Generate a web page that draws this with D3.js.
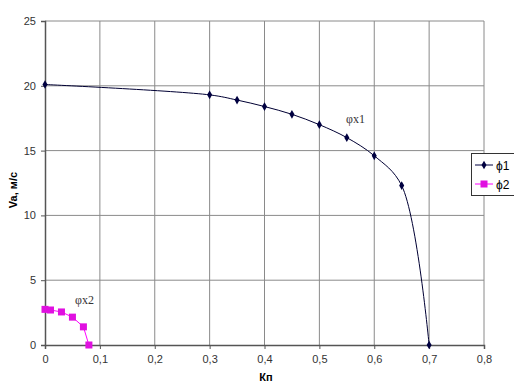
<!DOCTYPE html>
<html>
<head>
<meta charset="utf-8">
<script src="https://cdn.jsdelivr.net/npm/d3@7"></script>
<style>
  body { margin: 0; background: #fff; }
  text { font-family: "Liberation Sans", Arial, sans-serif; }
</style>
</head>
<body>
<svg width="514" height="389"></svg>
<script>
// series 1 (phi1)
var kp1 = [0, 0.3, 0.35, 0.4, 0.45, 0.5, 0.55, 0.6, 0.65, 0.7];
var va1 = [20.1, 19.3, 18.9, 18.4, 17.8, 17.0, 16.0, 14.6, 12.3, 0];
// series 2 (phi2)
var kp2 = [0, 0.01, 0.03, 0.05, 0.07, 0.08];
var va2 = [2.75, 2.7, 2.55, 2.15, 1.4, 0];
var xTicks = [0, 0.1, 0.2, 0.3, 0.4, 0.5, 0.6, 0.7, 0.8];
var yTicks = [0, 5, 10, 15, 20, 25];
var seriesNames = ["ϕ1", "ϕ2"];

var svg = d3.select("svg");
var x = d3.scaleLinear().domain([0, 0.8]).range([45, 484]);
var y = d3.scaleLinear().domain([0, 25]).range([345, 21]);
var fmt = function(d) { return String(d).replace(".", ","); };

// grid
var g = svg.append("g");
g.selectAll("line.vg").data(xTicks.slice(1)).enter().append("line")
    .attr("x1", d => x(d)).attr("x2", d => x(d))
    .attr("y1", y(25)).attr("y2", y(0))
    .attr("stroke", "#8a8a8a").attr("stroke-width", 1);
g.selectAll("line.hg").data(yTicks.slice(1)).enter().append("line")
    .attr("x1", x(0)).attr("x2", x(0.8))
    .attr("y1", d => y(d)).attr("y2", d => y(d))
    .attr("stroke", "#8a8a8a").attr("stroke-width", 1);

// axes
var xAxis = svg.append("g").attr("transform", "translate(0," + y(0) + ")")
    .call(d3.axisBottom(x).tickValues(xTicks).tickFormat(fmt).tickSize(4).tickPadding(6));
var yAxis = svg.append("g").attr("transform", "translate(" + x(0) + ",0)")
    .call(d3.axisLeft(y).tickValues(yTicks).tickSize(4).tickPadding(5));
[xAxis, yAxis].forEach(function(a) {
  a.select(".domain").attr("stroke", "#555").attr("stroke-width", 1.5);
  a.selectAll(".tick line").attr("stroke", "#555");
  a.selectAll("text").attr("font-size", 11).attr("fill", "#333");
});

// series 1 line (smoothed)
var d1 = kp1.map((k, i) => [k, va1[i]]);
var d2 = kp2.map((k, i) => [k, va2[i]]);
svg.append("path").datum(d1)
    .attr("d", d3.line().x(d => x(d[0])).y(d => y(d[1])).curve(d3.curveCatmullRom))
    .attr("fill", "none").attr("stroke", "#000033").attr("stroke-width", 1);
svg.selectAll("path.m1").data(d1).enter().append("path")
    .attr("transform", d => "translate(" + x(d[0]) + "," + y(d[1]) + ")")
    .attr("d", d3.symbol().type(d3.symbolDiamond).size(22))
    .attr("fill", "#000040");

svg.append("path").datum(d2)
    .attr("d", d3.line().x(d => x(d[0])).y(d => y(d[1])))
    .attr("fill", "none").attr("stroke", "#ff00ff").attr("stroke-width", 1);
svg.selectAll("rect.m2").data(d2).enter().append("rect")
    .attr("x", d => x(d[0]) - 3.5).attr("y", d => y(d[1]) - 3.5)
    .attr("width", 7).attr("height", 7).attr("fill", "#e010e0");

// annotations
svg.append("text").attr("x", 346).attr("y", 123).text("φx1")
    .style("font-family", "'Liberation Serif', 'Times New Roman', serif").attr("font-size", 12).attr("fill", "#333");
svg.append("text").attr("x", 75).attr("y", 304).text("φx2")
    .style("font-family", "'Liberation Serif', 'Times New Roman', serif").attr("font-size", 12).attr("fill", "#333");

// axis titles
svg.append("text").attr("x", 266).attr("y", 381).attr("text-anchor", "middle")
    .attr("font-size", 11).attr("font-weight", "bold").text("Кп");
svg.append("text").attr("transform", "translate(17,190) rotate(-90)").attr("text-anchor", "middle")
    .attr("font-size", 11).attr("font-weight", "bold").text("Va, м/с");

// legend
var lg = svg.append("g");
lg.append("rect").attr("x", 471.5).attr("y", 153.5).attr("width", 50).attr("height", 42)
    .attr("fill", "#fff").attr("stroke", "#333");
var legendColors = ["#000040", "#ff00ff"];
seriesNames.forEach(function(n, i) {
  var ly = 165 + i * 19;
  lg.append("line").attr("x1", 475).attr("x2", 493).attr("y1", ly).attr("y2", ly)
      .attr("stroke", legendColors[i]);
  if (i === 0) {
    lg.append("path").attr("transform", "translate(484," + ly + ")")
        .attr("d", d3.symbol().type(d3.symbolDiamond).size(22)).attr("fill", legendColors[i]);
  } else {
    lg.append("rect").attr("x", 480.5).attr("y", ly - 3.5).attr("width", 7).attr("height", 7)
        .attr("fill", "#e010e0");
  }
  lg.append("text").attr("x", 496).attr("y", ly + 5).attr("font-size", 12).text(n);
});
</script>
</body>
</html>
